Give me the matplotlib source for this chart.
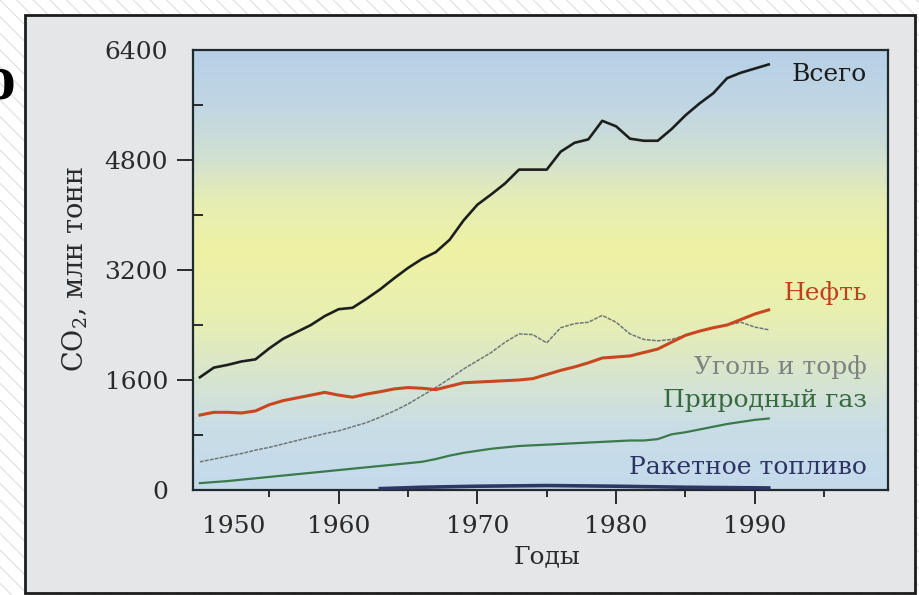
import numpy as np
import matplotlib
matplotlib.use("Agg")
import matplotlib.pyplot as plt
from matplotlib.colors import LinearSegmentedColormap
from matplotlib.patches import Rectangle
from matplotlib.ticker import FixedLocator

plt.rcParams['font.family'] = ['DejaVu Serif']
plt.rcParams['mathtext.fontset'] = 'dejavuserif'
plt.rcParams['hatch.linewidth'] = 0.7

# ---- data ----
years = list(range(1950, 1992))
total = [1640, 1780, 1820, 1870, 1900, 2060, 2200, 2300, 2400, 2530,
         2630, 2650, 2780, 2920, 3080, 3230, 3360, 3460, 3640, 3920,
         4150, 4300, 4460, 4660, 4660, 4660, 4920, 5050, 5100, 5370,
         5290, 5110, 5080, 5080, 5250, 5450, 5620, 5770, 5990, 6070,
         6130, 6190]
oil = [1090, 1130, 1130, 1120, 1150, 1240, 1300, 1340, 1380, 1420,
       1380, 1350, 1395, 1430, 1470, 1490, 1480, 1460, 1510, 1560,
       1570, 1580, 1590, 1600, 1620, 1680, 1740, 1790, 1850, 1920,
       1935, 1950, 2000, 2050, 2150, 2250, 2310, 2360, 2400, 2480,
       2560, 2620]
coal = [410, 450, 490, 530, 580, 620, 670, 720, 770, 820,
        860, 920, 980, 1060, 1150, 1250, 1370, 1490, 1620, 1760,
        1880, 2000, 2150, 2270, 2260, 2140, 2360, 2420, 2440, 2540,
        2440, 2270, 2190, 2170, 2190, 2250, 2310, 2360, 2400, 2440,
        2370, 2330]
gas = [100, 115, 130, 150, 170, 190, 210, 230, 250, 270,
       290, 310, 330, 350, 370, 390, 410, 450, 500, 540,
       570, 600, 620, 640, 650, 660, 670, 680, 690, 700,
       710, 720, 720, 740, 810, 840, 880, 920, 960, 990,
       1020, 1040]
rocket_years = [1963, 1966, 1970, 1975, 1980, 1985, 1991]
rocket = [20, 40, 55, 65, 55, 40, 30]

series_labels = ['Всего', 'Нефть', 'Уголь и торф', 'Природный газ', 'Ракетное топливо']
y_ticks = [0, 1600, 3200, 4800, 6400]
y_minor = [800, 2400, 4000, 5600]
x_tick_pos = [1952.4, 1960, 1970, 1980, 1990]
x_tick_labels = ['1950', '1960', '1970', '1980', '1990']
x_minor = [1955, 1965, 1975, 1985, 1995]

W, H = 920, 595
fig = plt.figure(figsize=(W / 100, H / 100), dpi=100)
fig.patch.set_facecolor('white')

# outer hatched background
bg = Rectangle((0, 0), 1, 1, transform=fig.transFigure, facecolor='white',
               edgecolor='#dadada', hatch='\\\\', linewidth=0, zorder=-10)
fig.patches.append(bg)
# panel frame
frame = Rectangle((25 / W, 1 - 593 / H), (915 - 25) / W, (593 - 15) / H,
                  transform=fig.transFigure, facecolor='#e5e6e8',
                  edgecolor='#1c1c1c', linewidth=2.0, zorder=-5)
fig.patches.append(frame)

# cut-off glyph at the left edge (as in the source picture)
fig.text(0 / W, 1 - 84 / H, 'о', fontsize=46, fontweight='bold',
         family='Liberation Serif', ha='center', va='center', color='black')

ax = fig.add_axes([193 / W, 1 - 490 / H, (888 - 193) / W, (490 - 50) / H])
ax.set_xlim(1949.5, 1999.6)
ax.set_ylim(0, 6400)

# gradient background
stops = [(0.0, '#c4daec'), (0.14, '#c9dde6'), (0.27, '#d9e6cc'),
         (0.40, '#e9efb0'), (0.55, '#eef2a4'), (0.66, '#e6edb4'),
         (0.76, '#d0e0d2'), (0.88, '#c0d6e4'), (1.0, '#b7d0e6')]
cmap = LinearSegmentedColormap.from_list('bgc', stops)
grad = np.linspace(0, 1, 256).reshape(-1, 1)
ax.imshow(grad, cmap=cmap, origin='lower', aspect='auto',
          extent=(1949.5, 1999.6, 0, 6400), zorder=0, interpolation='bilinear')

ax.plot(years, total, color='#1d1f1e', lw=1.9, zorder=5)
ax.plot(years, oil, color='#c8471f', lw=2.2, zorder=4)
ax.plot(years, coal, color='#6f7877', lw=1.1, ls=(0, (2.5, 0.8)), zorder=3)
ax.plot(years, gas, color='#3b7a4b', lw=1.6, zorder=3)
ax.plot(rocket_years, rocket, color='#2b3866', lw=2.6, zorder=3)

txt_kw = dict(transform=ax.transAxes, ha='right', va='center', fontsize=18)
ax.text(0.970, 0.945, series_labels[0], color='#1b1b1b', **txt_kw)
ax.text(0.970, 0.448, series_labels[1], color='#c0401e', **txt_kw)
ax.text(0.970, 0.280, series_labels[2], color='#7d8382', **txt_kw)
ax.text(0.970, 0.2045, series_labels[3], color='#37693f', **txt_kw)
ax.text(0.970, 0.050, series_labels[4], color='#2c3463', **txt_kw)

for s in ax.spines.values():
    s.set_color('#1f2a2e')
    s.set_linewidth(1.6)

ax.yaxis.set_major_locator(FixedLocator(y_ticks))
ax.set_yticklabels([str(v) for v in y_ticks])
ax.yaxis.set_minor_locator(FixedLocator(y_minor))
ax.tick_params(axis='y', which='major', direction='out', length=11.5, width=1.4,
               pad=6.5, labelsize=18, colors='#2a2a2a')
ax.tick_params(axis='y', which='minor', direction='in', length=7, width=1.4,
               colors='#2a2a2a')
yt = ax.yaxis.get_major_ticks()
yt[0].tick1line.set_visible(False)
yt[-1].tick1line.set_visible(False)

ax.xaxis.set_major_locator(FixedLocator(x_tick_pos))
ax.set_xticklabels(x_tick_labels)
ax.xaxis.set_minor_locator(FixedLocator(x_minor))
ax.tick_params(axis='x', which='major', direction='out', length=10, width=1.4,
               pad=8, labelsize=18, colors='#2a2a2a')
ax.tick_params(axis='x', which='minor', direction='out', length=5, width=1.4,
               colors='#2a2a2a')
ax.xaxis.get_major_ticks()[0].tick1line.set_visible(False)

fig.text(75 / W, 1 - 269 / H, 'CO$_2$, млн тонн', rotation=90, ha='center',
         va='center', fontsize=19.5, color='#2a2a2a')
fig.text(547 / W, 1 - 557 / H, 'Годы', ha='center', va='center',
         fontsize=18, color='#2a2a2a')

fig.savefig('out.png', dpi=100)
